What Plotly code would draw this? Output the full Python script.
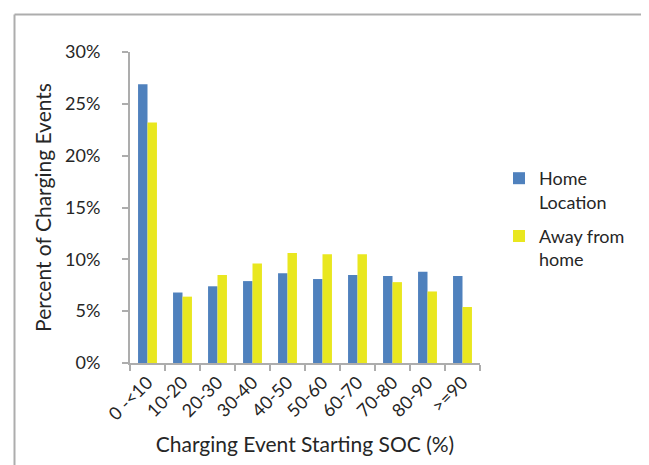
import plotly.graph_objects as go

categories = ["0 -<10", "10-20", "20-30", "30-40", "40-50", "50-60", "60-70", "70-80", "80-90", ">=90"]
home = [0.269, 0.068, 0.074, 0.079, 0.0865, 0.081, 0.085, 0.084, 0.088, 0.084]
away = [0.232, 0.064, 0.085, 0.096, 0.106, 0.105, 0.105, 0.078, 0.069, 0.054]

W, H = 649, 465
L, R, T, B = 122, 177, 44, 110
font = "Lato, 'Open Sans', sans-serif"
grey = "#ADADAD"

fig = go.Figure()
fig.add_trace(go.Bar(x=categories, y=home, name="Home<br>Location", legendgroup="home",
                     marker=dict(color="#4F81BD", line=dict(width=0))))
fig.add_trace(go.Bar(x=categories, y=away, name="Away from<br>home", legendgroup="away",
                     marker=dict(color="#E9E71F", line=dict(width=0))))

pw, ph = W - L - R, H - T - B
def px(x): return (x - L) / pw
def py(y): return (H - B - y) / ph

# outer frame (top and left edges only visible)
fig.add_shape(type="line", xref="paper", yref="paper",
              x0=px(6.5), y0=py(6.5), x1=px(W), y1=py(6.5),
              line=dict(color=grey, width=2))
fig.add_shape(type="line", xref="paper", yref="paper",
              x0=px(6.5), y0=py(6.5), x1=px(6.5), y1=py(H),
              line=dict(color=grey, width=2))

fig.update_layout(
    width=W, height=H,
    margin=dict(l=L, r=R, t=T, b=B),
    paper_bgcolor="white", plot_bgcolor="white",
    barmode="group", bargap=0.46, bargroupgap=0,
    font=dict(family=font, color="#262626", size=18),
    showlegend=True,
    legend=dict(x=px(491), y=py(152), xanchor="left", yanchor="top",
                font=dict(size=18), tracegroupgap=8, valign="top",
                itemwidth=30),
)
fig.update_xaxes(
    showline=True, linecolor=grey, linewidth=2,
    ticks="outside", tickson="boundaries", ticklen=6, tickcolor=grey, tickwidth=2,
    tickangle=-45, tickfont=dict(size=18), automargin=False,
    title=dict(text="Charging Event Starting SOC (%)", font=dict(size=21), standoff=14),
    showgrid=False,
)
fig.update_yaxes(
    range=[0, 0.30], dtick=0.05, tickformat=".0%",
    showline=True, linecolor=grey, linewidth=2,
    ticks="outside", ticklen=6, tickcolor=grey, tickwidth=2,
    tickfont=dict(size=18), ticklabelstandoff=18, automargin=False,
    title=dict(text="Percent of Charging Events", font=dict(size=21), standoff=8),
    showgrid=False, zeroline=False,
)

fig.write_html("out.html")
